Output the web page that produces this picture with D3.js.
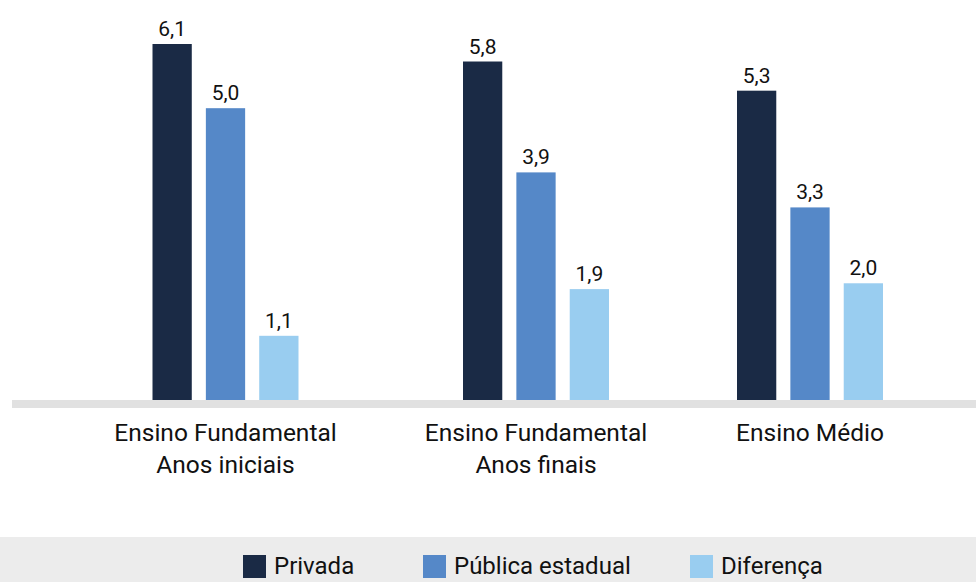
<!DOCTYPE html>
<html>
<head>
<meta charset="utf-8">
<script src="https://cdn.jsdelivr.net/npm/d3@7"></script>
<style>
  html, body { margin: 0; padding: 0; background: #fff; }
  svg { display: block; }
  text { font-family: Roboto, "DejaVu Sans", sans-serif; fill: #111; }
</style>
</head>
<body>
<svg id="chart" width="976" height="582"></svg>
<script>
// Categories (two-line labels) and series
const categories = ["Ensino Fundamental|Anos iniciais", "Ensino Fundamental|Anos finais", "Ensino Médio"];
const seriesNames = ["Privada", "Pública estadual", "Diferença"];
const privada = [6.1, 5.8, 5.3];
const publicaEstadual = [5.0, 3.9, 3.3];
const diferenca = [1.1, 1.9, 2.0];
const seriesColors = ["#1a2a45", "#5588c8", "#99cdf0"];

const values = [privada, publicaEstadual, diferenca];

const svg = d3.select("#chart");
const W = 976, H = 582;
const baseY = 400;

// Group centres along the axis
const x0 = d3.scaleOrdinal().domain(categories).range([225.5, 536, 810]);
// Bars within a group
const x1 = d3.scaleBand().domain(seriesNames).range([-73, 73]).paddingInner(0.264).paddingOuter(0);
const y = d3.scaleLinear().domain([0, 6.1]).range([baseY, 44]);

const fmt = v => d3.format(".1f")(v).replace(".", ",");

const rows = [];
categories.forEach((c, ci) => {
  seriesNames.forEach((s, si) => rows.push({ cat: c, series: s, value: values[si][ci], color: seriesColors[si] }));
});

// Bars
svg.append("g").selectAll("rect").data(rows).join("rect")
  .attr("x", d => x0(d.cat) + x1(d.series))
  .attr("y", d => y(d.value))
  .attr("width", x1.bandwidth())
  .attr("height", d => baseY - y(d.value))
  .attr("fill", d => d.color);

// Value labels
svg.append("g").selectAll("text").data(rows).join("text")
  .attr("x", d => x0(d.cat) + x1(d.series) + x1.bandwidth() / 2)
  .attr("y", d => y(d.value) - 8)
  .attr("text-anchor", "middle")
  .style("font-size", "21px")
  .text(d => fmt(d.value));

// Baseline band
svg.append("rect").attr("x", 12).attr("y", baseY).attr("width", W - 12).attr("height", 8).attr("fill", "#e1e1e1");

// Category labels
const catG = svg.append("g").selectAll("text").data(categories).join("text")
  .attr("text-anchor", "middle")
  .style("font-size", "24.5px");
catG.selectAll("tspan").data(d => d.split("|").map(t => ({ t, c: d }))).join("tspan")
  .attr("x", d => x0(d.c))
  .attr("y", (d, i) => 441 + i * 32)
  .text(d => d.t);

// Legend
svg.append("rect").attr("x", 0).attr("y", 537).attr("width", W).attr("height", H - 537).attr("fill", "#ececec");
const legendX = d3.scaleOrdinal().domain(seriesNames).range([243, 423, 690]);
const lg = svg.append("g").selectAll("g").data(seriesNames).join("g")
  .attr("transform", d => `translate(${legendX(d)},555)`);
lg.append("rect").attr("width", 23).attr("height", 23).attr("fill", (d, i) => seriesColors[i]);
lg.append("text").attr("x", 31).attr("y", 19)
  .style("font-size", "24px")
  .text(d => d);
</script>
</body>
</html>
